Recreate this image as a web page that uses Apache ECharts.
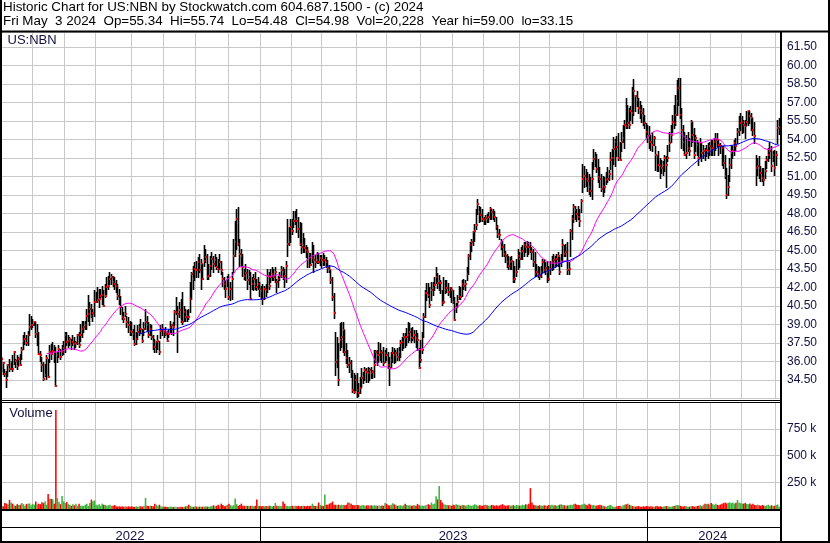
<!DOCTYPE html>
<html><head><meta charset="utf-8">
<script src="https://cdn.jsdelivr.net/npm/echarts@6/dist/echarts.min.js"></script>
<style>html,body{margin:0;padding:0;background:#fff}#c{width:830px;height:543px}</style>
</head><body><div id="c"></div>
<script>
// ---- data (daily bars, 3 May 2022 .. 3 May 2024) ----
const holidays = ['2022-05-30','2022-06-20','2022-07-04','2022-09-05','2022-11-24','2022-12-26',
'2023-01-02','2023-01-16','2023-02-20','2023-04-07','2023-05-29','2023-06-19','2023-07-04','2023-09-04','2023-11-23','2023-12-25',
'2024-01-01','2024-01-15','2024-02-19','2024-03-29'];

const highs = [
36.35,35.95,35.41,35.27,35.80,36.22,36.08,36.49,36.89,36.22,
36.49,36.35,36.62,37.16,38.11,38.38,38.11,38.51,39.86,39.73,
39.46,39.32,39.19,39.05,38.38,36.89,36.35,35.95,35.81,36.49,
36.22,37.30,37.43,37.57,37.30,37.16,36.76,37.30,37.03,37.30,
37.70,38.38,38.38,38.11,37.97,37.84,38.11,37.97,37.70,38.24,
38.38,39.05,39.32,39.32,39.32,40.27,41.41,40.81,40.68,40.27,
41.76,41.62,42.03,41.89,41.89,42.16,41.76,42.30,42.84,42.97,
43.24,43.11,42.97,42.84,42.57,42.30,41.89,41.35,40.41,40.00,
40.54,39.73,39.59,39.32,39.19,38.65,38.92,38.38,38.92,39.05,
39.46,38.65,39.19,40.27,39.73,39.19,39.05,38.92,38.11,37.84,
37.70,38.11,37.70,38.92,39.05,38.65,38.78,38.51,38.65,39.32,
39.05,39.19,40.14,41.22,40.54,40.81,41.08,41.62,40.54,40.27,
40.14,40.27,42.43,43.24,43.78,44.05,44.19,44.46,44.73,44.32,
43.92,45.41,45.14,44.73,43.92,44.59,44.86,44.59,44.73,44.46,
44.32,44.73,44.19,43.24,42.84,42.57,42.97,43.11,42.43,43.24,
45.95,47.43,48.38,48.51,45.95,45.14,44.73,43.51,43.92,43.51,
43.38,43.24,42.84,43.11,43.24,42.70,42.84,42.43,42.16,42.30,
42.16,42.30,43.51,43.24,43.51,43.65,43.51,43.65,42.70,42.97,
43.24,43.78,43.65,43.51,44.19,47.57,46.89,47.57,47.57,48.24,
48.24,48.38,47.70,47.30,47.21,46.40,45.99,45.45,45.31,44.77,
44.77,45.72,45.45,44.64,44.91,44.77,44.64,44.64,44.77,44.64,
44.50,44.23,43.83,43.42,42.88,41.53,38.42,38.02,37.48,39.10,
39.23,39.23,38.56,37.48,36.94,36.40,36.13,35.31,35.04,34.91,
35.04,34.23,34.77,35.45,35.18,35.59,35.45,35.59,35.45,35.59,
35.31,36.94,36.94,36.94,37.61,37.48,36.94,37.21,36.94,37.07,
36.80,36.40,36.80,37.21,37.07,36.94,37.07,37.21,37.75,38.02,
38.29,38.29,38.69,39.23,39.10,38.69,38.83,38.56,38.56,38.29,
37.07,37.75,38.42,39.91,41.80,42.34,42.34,42.07,42.48,42.48,
42.88,43.69,43.15,43.02,42.61,41.80,42.88,42.61,42.61,42.34,
42.07,42.07,41.80,41.26,40.72,41.40,42.16,42.03,42.57,42.70,
42.57,43.65,44.73,45.68,45.95,46.62,47.16,48.38,49.19,48.65,
48.51,48.38,47.70,47.84,47.97,48.11,48.51,48.38,48.38,48.24,
47.70,47.03,46.76,45.95,45.81,45.54,45.00,44.73,44.59,44.46,
44.59,44.19,43.78,44.32,45.14,44.86,45.27,45.41,45.68,45.68,
45.81,45.68,45.68,45.27,45.14,44.86,43.92,43.78,43.65,43.78,
44.32,44.32,44.05,44.19,43.78,44.19,44.59,44.73,44.59,44.73,
44.86,44.46,44.73,45.95,45.41,45.54,45.68,44.05,46.76,47.84,
48.78,48.65,48.38,48.65,48.38,49.19,52.03,51.89,51.62,51.35,
51.22,50.95,52.16,53.24,52.97,52.84,52.43,51.76,51.22,51.08,
50.95,51.35,51.76,51.49,52.97,53.24,54.19,54.05,54.32,54.52,
53.84,54.65,55.19,55.60,57.36,56.82,56.55,56.68,58.30,58.90,
57.63,57.90,57.36,57.09,56.82,56.55,56.01,55.33,55.19,55.06,
54.38,54.65,54.25,53.44,52.76,53.03,52.49,52.36,52.22,52.76,
52.63,53.57,54.65,55.19,56.01,56.82,57.63,58.84,59.00,58.95,
56.55,55.19,54.65,54.38,54.65,54.11,55.60,55.46,54.92,54.38,
53.98,53.84,54.11,53.71,53.57,53.30,53.57,53.71,53.84,53.98,
53.98,54.11,54.52,54.52,53.98,53.71,53.44,53.44,52.76,51.68,
51.14,52.49,53.57,53.44,53.98,54.11,54.92,55.87,56.14,55.87,
55.60,55.60,56.28,56.41,56.28,56.14,55.74,55.46,52.76,52.49,
52.63,51.82,51.68,51.68,52.22,52.63,53.30,53.84,53.44,53.03,
53.17,53.03,55.60,55.74];

const lows = [
35.27,35.00,34.86,33.92,34.86,35.27,35.41,35.27,35.81,35.54,
35.41,35.68,35.68,36.22,37.03,37.43,37.30,37.30,38.11,38.65,
38.78,38.92,37.97,37.30,36.62,36.08,35.27,34.46,34.86,34.59,
34.73,35.95,36.22,36.76,35.95,34.05,35.95,36.35,36.22,36.49,
36.62,36.76,37.30,37.16,37.30,37.03,37.30,37.03,37.16,37.43,
37.16,37.70,37.97,38.38,38.65,38.65,39.32,38.92,39.59,39.32,
39.73,40.81,40.81,40.41,41.22,40.68,40.54,41.22,41.49,41.89,
42.30,42.30,42.16,41.89,41.62,41.08,40.68,39.86,39.46,39.19,
39.73,38.78,38.38,38.11,38.11,37.84,37.30,37.43,37.84,38.11,
38.38,37.57,38.11,38.65,38.51,37.97,38.11,37.84,37.03,36.76,
36.76,37.03,36.62,37.90,38.11,37.97,38.11,37.70,37.97,38.38,
38.24,38.11,38.92,39.86,36.76,39.59,39.19,39.05,39.32,39.32,
39.32,39.46,40.00,41.08,41.89,42.57,42.84,42.84,43.24,41.89,
42.70,43.78,44.05,42.70,42.70,42.97,43.51,43.24,43.78,43.51,
43.24,43.51,43.11,42.16,41.89,41.22,42.16,41.08,40.95,41.08,
43.24,44.59,45.14,45.41,43.78,43.78,42.97,42.70,42.57,41.89,
42.30,41.08,41.89,41.76,41.89,41.76,41.89,41.35,41.08,40.68,
41.08,41.35,41.62,41.89,42.43,42.57,42.57,42.43,41.62,42.03,
42.57,42.84,42.70,42.03,42.43,44.59,45.41,45.68,46.35,46.89,
47.16,46.49,46.08,45.41,44.77,44.91,44.91,44.50,43.69,43.69,
43.83,44.10,43.29,43.69,43.96,43.96,43.83,43.69,43.83,43.83,
43.69,43.29,43.29,42.34,40.99,39.50,34.91,35.59,34.10,36.94,
37.21,36.80,36.53,35.86,35.59,35.18,34.77,33.56,33.42,33.69,
33.15,33.20,33.42,33.96,34.23,34.50,34.37,34.37,34.50,34.64,
34.64,34.77,35.99,35.72,35.99,36.13,35.99,35.72,35.99,36.13,
35.45,34.10,35.59,35.99,35.86,35.99,36.13,36.13,36.40,36.94,
37.07,37.21,37.34,37.61,37.75,37.61,37.75,37.61,37.21,36.94,
35.45,35.99,36.67,38.02,39.64,41.00,41.26,40.45,40.99,41.40,
41.80,42.34,41.94,41.80,41.53,40.59,40.72,41.53,41.67,41.40,
41.26,40.86,40.72,39.37,40.05,40.45,41.08,41.08,41.35,41.89,
41.76,42.57,43.11,44.32,45.00,45.41,45.81,46.76,47.97,47.30,
47.43,47.43,47.16,47.16,47.30,47.30,47.57,47.57,47.57,47.43,
46.76,46.08,45.95,45.14,44.59,44.59,44.05,43.65,43.51,43.51,
43.51,42.43,42.43,42.97,43.51,43.65,44.32,44.32,44.59,44.86,
44.59,44.73,44.86,44.32,43.78,42.97,42.97,42.84,42.70,42.84,
43.24,43.24,43.11,42.43,42.57,43.11,43.38,43.51,43.65,43.78,
43.78,43.11,43.78,44.05,44.59,44.59,43.11,43.11,44.59,45.95,
47.30,47.57,47.43,47.57,46.97,48.11,49.73,50.14,50.27,49.86,
49.59,49.46,49.19,51.62,51.89,51.35,50.54,50.14,49.86,49.46,
49.73,50.41,50.54,50.68,51.62,50.81,52.03,51.89,52.70,52.36,
52.36,53.03,53.84,53.30,54.92,54.92,54.92,55.60,55.33,56.00,
56.28,56.68,56.14,55.74,55.46,55.19,54.92,54.11,53.84,53.30,
53.17,53.03,53.57,51.55,51.41,51.41,50.87,51.28,51.14,51.41,
50.19,52.22,53.03,53.84,54.65,54.92,55.19,56.01,56.82,55.74,
53.30,53.17,52.76,52.49,53.03,52.76,53.44,53.84,52.49,53.03,
52.76,51.95,52.49,52.22,52.49,52.36,52.63,52.49,52.76,52.76,
52.76,52.76,53.17,53.44,52.76,52.90,51.95,51.68,50.87,49.25,
49.52,50.60,51.68,52.49,52.76,53.17,53.71,54.38,54.79,54.52,
54.65,54.11,55.19,55.19,55.33,54.79,54.38,53.71,50.33,51.14,
50.87,50.60,50.60,50.33,50.87,51.68,52.22,52.49,51.41,52.22,
51.14,51.95,53.71,54.48];

const closes = [
36.22,35.89,35.00,34.54,35.68,35.41,35.95,35.41,36.76,36.08,
35.62,36.22,35.73,36.95,37.70,37.84,37.51,38.11,38.78,38.92,
38.97,39.19,38.24,38.30,36.62,36.49,35.68,34.59,34.92,36.27,
34.78,36.76,36.62,36.89,36.76,34.05,36.49,37.03,36.35,36.76,
37.08,38.16,37.57,37.70,37.84,37.30,37.57,37.43,37.50,38.11,
37.30,38.11,38.65,38.80,38.92,39.73,39.86,40.27,39.73,39.95,
40.81,40.86,40.95,41.10,41.35,41.41,40.54,41.35,42.03,42.16,
42.70,42.84,42.43,42.30,42.16,41.30,41.08,40.41,39.59,39.46,
39.86,39.19,38.92,38.51,38.38,38.24,37.43,37.84,38.38,38.78,
38.65,37.70,38.65,39.19,38.92,38.11,38.65,37.97,37.57,37.16,
37.57,37.70,36.76,38.51,38.65,38.38,38.24,37.70,38.24,38.78,
38.92,38.78,40.00,40.00,39.86,40.14,39.32,39.19,40.00,39.59,
39.73,39.59,41.08,43.11,42.70,43.51,43.38,44.05,43.38,43.92,
42.70,44.19,44.46,42.84,42.97,43.78,44.30,43.92,44.20,43.65,
43.51,44.05,43.38,42.70,42.30,41.89,42.70,41.22,41.89,42.70,
44.59,45.68,47.57,45.54,44.73,44.59,43.65,42.97,43.20,42.57,
42.84,41.08,42.30,42.70,42.30,42.03,42.30,41.89,41.70,41.08,
41.89,41.76,42.97,42.16,42.84,43.11,42.84,43.24,42.43,42.70,
42.97,43.40,43.24,42.97,43.78,45.54,45.68,46.89,46.62,47.43,
47.57,47.43,46.76,45.54,45.31,45.45,45.18,45.04,44.91,44.64,
43.83,44.37,44.23,44.10,44.23,44.10,44.37,44.23,44.10,44.23,
44.10,43.56,43.42,42.61,41.26,39.91,35.99,36.13,34.50,37.75,
38.02,38.56,36.80,36.26,35.72,35.86,35.18,33.69,33.56,34.50,
33.69,33.42,33.83,34.64,34.77,35.31,35.18,35.04,35.31,35.04,
35.18,35.72,36.80,36.53,36.53,36.80,36.67,35.86,36.67,36.53,
35.72,35.45,36.13,36.67,36.53,36.67,36.40,36.80,37.48,37.60,
38.02,37.90,38.02,38.15,38.42,38.02,37.88,38.15,37.88,37.75,
35.45,36.13,36.94,39.64,41.53,41.53,41.40,40.59,41.80,42.00,
42.21,42.88,42.34,42.50,42.34,40.72,40.86,41.80,41.94,41.67,
41.94,41.80,40.86,39.37,40.45,40.86,41.35,41.22,42.30,42.16,
42.30,43.11,44.59,45.41,45.68,46.49,46.62,47.03,48.78,48.11,
47.84,47.57,47.45,47.60,47.57,47.70,48.38,48.11,47.84,47.70,
46.89,46.35,46.22,45.68,45.27,44.73,44.59,44.05,43.78,44.05,
44.19,42.57,42.70,43.24,44.59,44.32,44.86,45.00,45.41,45.27,
45.41,45.27,45.00,44.86,44.05,43.11,43.24,43.11,42.97,43.24,
44.05,43.38,43.60,43.24,42.70,43.51,44.05,44.20,43.92,44.32,
44.59,43.24,44.19,45.41,44.73,44.86,43.38,43.51,46.62,47.57,
48.51,48.30,48.00,47.70,47.43,49.05,50.81,51.08,50.81,50.60,
50.14,49.86,50.81,52.43,52.57,51.62,50.95,50.81,50.00,50.20,
50.14,50.68,50.81,51.22,52.30,52.50,53.24,53.78,53.38,52.49,
52.36,53.84,54.11,55.19,55.06,55.33,55.19,56.28,56.14,57.90,
57.49,57.22,56.55,56.41,56.14,55.87,55.33,54.65,54.25,53.98,
53.84,53.57,54.11,52.76,52.63,51.95,51.82,51.68,51.95,52.49,
51.95,52.49,53.71,54.38,55.46,55.33,56.01,57.09,58.17,56.01,
54.79,53.84,52.76,52.90,53.30,53.03,55.46,54.38,52.76,54.11,
53.57,52.49,53.71,52.90,53.10,53.03,53.17,53.03,53.44,53.20,
53.30,53.84,54.00,53.98,53.57,53.44,53.30,52.09,51.01,49.52,
50.19,51.95,52.90,53.03,53.71,53.44,54.65,54.79,55.33,55.46,
55.19,55.06,55.46,56.28,55.87,55.74,54.79,54.25,51.68,51.82,
51.68,51.28,50.87,50.74,51.41,52.36,52.76,53.03,51.82,52.76,
51.68,52.76,54.92,54.98];

// volume, thousands of shares
const volumesK = [
30,25,55,50,45,85,60,50,35,30, 45,38,40,55,45,30,48,50,52,35,
48,40,70,45,50,45,62,55,72,40, 140,95,95,90,50,925,103,65,45,122,
72,55,65,45,40,30,45,35,50,30, 50,30,30,28,40,48,30,55,88,72,
80,40,35,45,30,50,40,37,30,35, 40,30,30,37,25,22,25,20,25,22,
25,22,25,20,25,22,20,25,22,25, 25,22,30,103,30,28,30,28,25,48,
40,28,40,25,22,20,22,18,20,22, 20,18,22,20,18,20,22,18,20,25,
30,40,30,22,20,25,22,20,22,20, 22,20,25,22,20,25,28,35,25,30,
40,30,50,37,25,30,40,50,35,30, 35,97,45,30,37,50,30,30,28,30,
28,30,30,25,30,88,30,28,25,28, 25,28,25,30,28,25,28,56,30,28,
30,28,70,50,30,28,25,28,30,28, 30,28,30,25,28,30,28,25,30,28,
30,50,30,28,30,60,40,30,30,135, 40,40,50,56,70,40,40,38,40,35,
40,38,35,40,60,56,48,37,35,38, 37,35,30,35,37,30,33,35,30,35,
30,35,33,30,35,30,33,30,56,48, 35,33,40,53,44,35,30,33,35,30,
35,50,37,33,35,30,33,35,30,48, 35,30,33,28,35,40,45,38,60,45,
50,120,90,215,85,60,45,40,38,35, 35,30,40,35,45,40,35,30,38,35,
30,35,40,33,30,35,45,38,30,35, 33,30,35,40,35,30,33,38,35,30,
35,30,33,40,45,35,30,33,35,30, 33,35,30,38,35,30,33,40,35,45,
40,50,195,60,40,35,33,30,35,33, 30,35,33,30,38,35,40,33,35,30,
35,40,45,38,35,30,33,35,40,38, 45,50,40,38,35,40,45,50,40,35,
48,40,35,38,30,33,35,40,35,30, 25,22,28,35,38,25,22,20,25,28,
30,22,35,40,45,50,40,35,28,25, 22,25,28,22,20,25,22,28,25,22,
25,22,20,25,28,22,25,20,22,25, 28,25,22,20,25,28,35,38,35,30,
25,22,28,25,20,22,25,28,22,25, 28,30,35,25,40,48,45,50,38,55,
45,40,50,38,35,42,48,55,60,52, 58,62,55,60,50,58,85,60,55,52,
50,55,48,45,52,40,48,38,35,40, 35,30,38,32,28,35,40,30,35,28,
30,38,42,20];

const maPeriods = [30, 90];
const titleLines = [
  'Historic Chart for US:NBN by Stockwatch.com 604.687.1500 - (c) 2024',
  'Fri May  3 2024  Op=55.34  Hi=55.74  Lo=54.48  Cl=54.98  Vol=20,228  Year hi=59.00  lo=33.15'
];

// ---- trading-day categories ----
const dates = [];
for (let t = Date.UTC(2022, 4, 3); t <= Date.UTC(2024, 4, 3); t += 86400000) {
  const d = new Date(t); const wd = d.getUTCDay();
  if (wd === 0 || wd === 6) continue;
  const s = d.toISOString().slice(0, 10);
  if (holidays.indexOf(s) >= 0) continue;
  dates.push(s);
}
const n = closes.length;
const cats = dates.slice(0, n);
while (cats.length < n) cats.push(cats[cats.length - 1]);

const monthStart = i => i > 0 && cats[i].slice(0, 7) !== cats[i - 1].slice(0, 7);
const yearStart = i => i > 0 && cats[i].slice(0, 4) !== cats[i - 1].slice(0, 4);
const yFirst = {}, yLast = {};
cats.forEach((d, i) => { const y = d.slice(0, 4); if (!(y in yFirst)) yFirst[y] = i; yLast[y] = i; });
const yearMid = new Set(Object.keys(yFirst).map(y => Math.floor((yFirst[y] + yLast[y]) / 2)));

function sma(src, p) {
  const out = []; let s = 0;
  for (let i = 0; i < src.length; i++) {
    s += src[i]; if (i >= p) s -= src[i - p];
    out.push(i >= p - 1 ? +(s / p).toFixed(3) : null);
  }
  return out;
}
const maFast = sma(closes, maPeriods[0]);
const maSlow = sma(closes, maPeriods[1]);

const ohlc = closes.map((c, i) => [i, highs[i], lows[i], c]);
const RED = '#ff0000', GREEN = '#3cb43c', GRAY = '#a0a0a0';
const volData = volumesK.map((v, i) => ({
  value: v,
  itemStyle: { color: i === 0 || closes[i] > closes[i - 1] ? GREEN : (closes[i] < closes[i - 1] ? RED : GRAY) }
}));

const FONT = '"Liberation Sans", Arial, sans-serif';
const LBL = '#101040';
const GRIDC = '#c8c8c8';

function catAxis(g) {
  return {
    type: 'category', gridIndex: g, data: cats, boundaryGap: true,
    axisLine: { show: false }, axisTick: { show: false }, axisLabel: { show: false },
    splitLine: { show: true, interval: (i) => monthStart(i), lineStyle: { color: GRIDC, width: 1 } }
  };
}

const chart = echarts.init(document.getElementById('c'), null, { renderer: 'canvas' });
const line = (x1, y1, x2, y2, w) => ({ type: 'line', z: 100, silent: true,
  shape: { x1, y1, x2, y2 }, style: { stroke: '#000', lineWidth: w } });

chart.setOption({
  animation: false,
  backgroundColor: '#fff',
  grid: [
    { left: 1, right: 50, top: 32, height: 366.5 },
    { left: 1, right: 50, top: 402, height: 107 },
    { left: 1, right: 50, top: 510, height: 31 }
  ],
  xAxis: [
    catAxis(0),
    catAxis(1),
    {
      type: 'category', gridIndex: 2, data: cats, boundaryGap: true,
      axisLine: { show: false }, axisTick: { show: false },
      axisLabel: { show: true, inside: true, margin: 5, verticalAlign: 'middle',
        interval: (i) => yearMid.has(i), formatter: v => v.slice(0, 4),
        fontSize: 13, fontFamily: FONT, color: LBL },
      splitLine: { show: true, interval: (i) => yearStart(i), lineStyle: { color: '#000', width: 1 } }
    }
  ],
  yAxis: [
    {
      type: 'value', gridIndex: 0, position: 'right', min: 33, max: 62.72, interval: 1.5,
      axisLine: { show: false }, axisTick: { show: false },
      axisLabel: { margin: 7, fontSize: 12, fontFamily: FONT, color: LBL,
        formatter: v => v.toFixed(2), showMinLabel: false, showMaxLabel: false },
      splitLine: { lineStyle: { color: GRIDC, width: 1 } }
    },
    {
      type: 'value', gridIndex: 1, position: 'right', min: 0, max: 1000, interval: 250,
      axisLine: { show: false }, axisTick: { show: false },
      axisLabel: { margin: 7, fontSize: 12, fontFamily: FONT, color: LBL,
        formatter: v => v + ' k', showMinLabel: false, showMaxLabel: false },
      splitLine: { lineStyle: { color: GRIDC, width: 1 } }
    },
    { type: 'value', gridIndex: 2, show: false, min: 0, max: 1 }
  ],
  series: [
    {
      type: 'custom', xAxisIndex: 0, yAxisIndex: 0, data: ohlc, clip: true, z: 2,
      encode: { x: 0, y: [1, 2, 3] },
      renderItem: (params, api) => {
        const i = api.value(0);
        const pH = api.coord([i, api.value(1)]);
        const pL = api.coord([i, api.value(2)]);
        const pC = api.coord([i, api.value(3)]);
        const x = Math.floor(pH[0]) + 0.5;
        return { type: 'group', children: [
          { type: 'line', shape: { x1: x, y1: Math.round(pH[1]), x2: x, y2: Math.round(pL[1]) + 1 },
            style: { stroke: '#000', lineWidth: 1.6 } },
          { type: 'rect', shape: { x: x - 0.5, y: Math.round(pC[1]) - 1, width: 2, height: 2 },
            style: { fill: RED } }
        ] };
      }
    },
    { type: 'line', xAxisIndex: 0, yAxisIndex: 0, data: maFast, showSymbol: false, symbol: 'none',
      lineStyle: { color: '#ff00ff', width: 1 }, itemStyle: { color: '#ff00ff' }, z: 3, silent: true },
    { type: 'line', xAxisIndex: 0, yAxisIndex: 0, data: maSlow, showSymbol: false, symbol: 'none',
      lineStyle: { color: '#0000ff', width: 1 }, itemStyle: { color: '#0000ff' }, z: 3, silent: true },
    { type: 'bar', xAxisIndex: 1, yAxisIndex: 1, data: volData, barCategoryGap: '0%', barMinHeight: 2, z: 2 }
  ],
  graphic: [
    { type: 'text', x: 3, y: 7.8, z: 100, style: { text: titleLines[0], font: '13.4px ' + FONT, fill: '#000', align: 'left', verticalAlign: 'middle' } },
    { type: 'text', x: 3, y: 21.8, z: 100, style: { text: titleLines[1], font: '13.4px ' + FONT, fill: '#000', align: 'left', verticalAlign: 'middle' } },
    { type: 'text', x: 7.5, y: 40.6, z: 100, style: { text: 'US:NBN', font: '13px ' + FONT, fill: LBL, align: 'left', verticalAlign: 'middle' } },
    { type: 'text', x: 9.3, y: 413, z: 100, style: { text: 'Volume', font: '13px ' + FONT, fill: LBL, align: 'left', verticalAlign: 'middle' } },
    line(0, 31.5, 830, 31.5, 2),
    line(1, 0, 1, 543, 2),
    line(829, 0, 829, 543, 2),
    line(0, 542, 830, 542, 2),
    line(781, 31, 781, 543, 2),
    line(0, 400.5, 781, 400.5, 1),
    line(0, 402.5, 781, 402.5, 1),
    line(0, 510, 781, 510, 2),
    line(0, 527.5, 781, 527.5, 1.2)
  ]
});
</script></body></html>
